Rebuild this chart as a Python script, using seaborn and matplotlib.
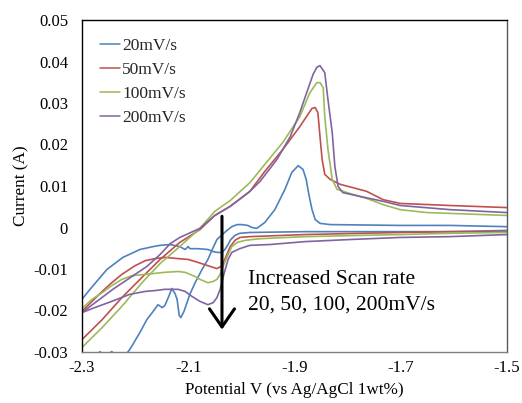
import numpy as np
import pandas as pd
import matplotlib
matplotlib.use("Agg")
import matplotlib.pyplot as plt
import seaborn as sns

# ---------------- data ----------------
rates = ["20mV/s", "50mV/s", "100mV/s", "200mV/s"]
colors = ["#4F81BD", "#C0504D", "#9BBB59", "#8064A2"]

# 20 mV/s
b_cat_V = [-1.500, -1.607, -1.701, -1.880, -1.984, -2.003, -2.012, -2.020, -2.025, -2.031,
           -2.036, -2.046, -2.053, -2.063, -2.082, -2.097, -2.100, -2.106, -2.116, -2.134,
           -2.153, -2.166, -2.191, -2.223, -2.253, -2.285, -2.300]
b_cat_I = [-0.0007, -0.0010, -0.0010, -0.0010, -0.0012, -0.0014, -0.0019, -0.0029, -0.0041, -0.0053,
           -0.0060, -0.0060, -0.0058, -0.0053, -0.0051, -0.0051, -0.0046, -0.0053, -0.0046, -0.0041,
           -0.0043, -0.0046, -0.0053, -0.0072, -0.0101, -0.0149, -0.0173]
b_an_V = [-2.300, -2.276, -2.266, -2.259, -2.244, -2.232, -2.219, -2.210, -2.191, -2.178,
          -2.166, -2.157, -2.149, -2.144, -2.136, -2.131, -2.125, -2.121, -2.117, -2.114,
          -2.108, -2.097, -2.087, -2.074, -2.063, -2.053, -2.046, -2.036, -2.027, -2.018,
          -2.008, -1.999, -1.988, -1.980, -1.971, -1.956, -1.937, -1.918, -1.905, -1.893,
          -1.884, -1.878, -1.873, -1.867, -1.861, -1.852, -1.833, -1.701, -1.607, -1.500]
b_an_I = [-0.0330, -0.0313, -0.0299, -0.0313, -0.0299, -0.0313, -0.0308, -0.0294, -0.0253, -0.0222,
          -0.0202, -0.0186, -0.0193, -0.0188, -0.0164, -0.0147, -0.0159, -0.0173, -0.0212, -0.0217,
          -0.0202, -0.0161, -0.0133, -0.0101, -0.0077, -0.0048, -0.0029, -0.0017, -0.0007, 0.0002,
          0.0007, 0.0007, 0.0005, 0.0000, -0.0002, 0.0012, 0.0043, 0.0092, 0.0133, 0.0149,
          0.0140, 0.0116, 0.0080, 0.0043, 0.0019, 0.0010, 0.0007, 0.0005, 0.0005, 0.0002]

# 50 mV/s
r_cat_V = [-1.500, -1.607, -1.701, -1.880, -1.984, -2.003, -2.012, -2.021, -2.029, -2.036,
           -2.046, -2.063, -2.082, -2.100, -2.119, -2.144, -2.163, -2.181, -2.200, -2.225,
           -2.244, -2.262, -2.281, -2.300]
r_cat_I = [-0.0010, -0.0010, -0.0012, -0.0017, -0.0022, -0.0024, -0.0031, -0.0046, -0.0070, -0.0092,
           -0.0099, -0.0092, -0.0084, -0.0077, -0.0075, -0.0072, -0.0075, -0.0080, -0.0092, -0.0113,
           -0.0133, -0.0154, -0.0178, -0.0202]
r_an_V = [-2.300, -2.262, -2.225, -2.187, -2.153, -2.116, -2.078, -2.050, -2.021, -1.984,
          -1.956, -1.922, -1.890, -1.875, -1.867, -1.861, -1.856, -1.852, -1.848, -1.843,
          -1.833, -1.814, -1.790, -1.764, -1.733, -1.701, -1.607, -1.500]
r_an_I = [-0.0270, -0.0222, -0.0169, -0.0120, -0.0077, -0.0036, -0.0005, 0.0029, 0.0051, 0.0087,
          0.0135, 0.0188, 0.0243, 0.0272, 0.0287, 0.0289, 0.0277, 0.0219, 0.0164, 0.0128,
          0.0116, 0.0104, 0.0096, 0.0087, 0.0067, 0.0058, 0.0053, 0.0048]

# 100 mV/s
g_cat_V = [-1.500, -1.607, -1.701, -1.880, -1.965, -1.993, -2.008, -2.018, -2.025, -2.033,
           -2.040, -2.046, -2.053, -2.063, -2.078, -2.087, -2.106, -2.119, -2.144, -2.181,
           -2.206, -2.225, -2.244, -2.262, -2.281, -2.300]
g_cat_I = [-0.0012, -0.0014, -0.0017, -0.0022, -0.0027, -0.0031, -0.0036, -0.0046, -0.0065, -0.0089,
           -0.0113, -0.0125, -0.0130, -0.0133, -0.0125, -0.0118, -0.0108, -0.0106, -0.0108, -0.0113,
           -0.0116, -0.0125, -0.0140, -0.0157, -0.0173, -0.0195]
g_an_V = [-2.300, -2.262, -2.225, -2.187, -2.153, -2.116, -2.078, -2.050, -2.021, -1.984,
          -1.922, -1.890, -1.871, -1.858, -1.852, -1.846, -1.843, -1.837, -1.829, -1.820,
          -1.796, -1.764, -1.733, -1.701, -1.651, -1.607, -1.500]
g_an_I = [-0.0289, -0.0241, -0.0190, -0.0133, -0.0087, -0.0046, -0.0002, 0.0039, 0.0065, 0.0108,
          0.0205, 0.0267, 0.0325, 0.0349, 0.0349, 0.0337, 0.0267, 0.0188, 0.0116, 0.0092,
          0.0082, 0.0070, 0.0055, 0.0043, 0.0036, 0.0034, 0.0029]

# 200 mV/s
p_cat_V = [-1.500, -1.607, -1.701, -1.796, -1.880, -1.946, -1.984, -2.003, -2.018, -2.025,
           -2.033, -2.040, -2.046, -2.053, -2.063, -2.078, -2.093, -2.106, -2.119, -2.144,
           -2.163, -2.181, -2.210, -2.244, -2.276, -2.300]
p_cat_I = [-0.0017, -0.0022, -0.0024, -0.0029, -0.0034, -0.0041, -0.0043, -0.0051, -0.0060, -0.0077,
           -0.0113, -0.0149, -0.0169, -0.0181, -0.0186, -0.0178, -0.0166, -0.0154, -0.0149, -0.0149,
           -0.0152, -0.0154, -0.0161, -0.0178, -0.0193, -0.0205]
p_an_V = [-2.300, -2.242, -2.178, -2.153, -2.134, -2.116, -2.078, -2.050, -2.021, -1.984,
          -1.965, -1.933, -1.908, -1.890, -1.877, -1.865, -1.858, -1.852, -1.843, -1.837,
          -1.829, -1.824, -1.818, -1.809, -1.777, -1.733, -1.701, -1.607, -1.500]
p_an_I = [-0.0205, -0.0149, -0.0094, -0.0065, -0.0039, -0.0024, -0.0002, 0.0029, 0.0051, 0.0087,
          0.0111, 0.0164, 0.0219, 0.0277, 0.0325, 0.0369, 0.0386, 0.0390, 0.0373, 0.0308,
          0.0229, 0.0147, 0.0099, 0.0084, 0.0075, 0.0063, 0.0053, 0.0043, 0.0036]

x_ticks = [-2.3, -2.1, -1.9, -1.7, -1.5]
x_tick_labels = ["-2.3", "-2.1", "-1.9", "-1.7", "-1.5"]
y_ticks = [0.05, 0.04, 0.03, 0.02, 0.01, 0.0, -0.01, -0.02, -0.03]
y_tick_labels = ["0.05", "0.04", "0.03", "0.02", "0.01", "0", "-0.01", "-0.02", "-0.03"]

# ---------------- build long table ----------------
branches = [
    (rates[0], "cat", b_cat_V, b_cat_I), (rates[0], "an", b_an_V, b_an_I),
    (rates[1], "cat", r_cat_V, r_cat_I), (rates[1], "an", r_an_V, r_an_I),
    (rates[2], "cat", g_cat_V, g_cat_I), (rates[2], "an", g_an_V, g_an_I),
    (rates[3], "cat", p_cat_V, p_cat_I), (rates[3], "an", p_an_V, p_an_I),
]
frames = []
for rate, br, V, I in branches:
    frames.append(pd.DataFrame({"V": V, "I": I, "rate": rate, "branch": rate + "_" + br}))
df = pd.concat(frames, ignore_index=True)

# ---------------- style ----------------
sns.set_theme(style="white")
plt.rcParams["font.family"] = ["Liberation Serif", "DejaVu Serif"]
plt.rcParams["axes.unicode_minus"] = False

fig = plt.figure(figsize=(5.22, 4.03), dpi=100)
ax = fig.add_axes([82 / 522, 1 - 352 / 403, 425 / 522, 332 / 403])

sns.lineplot(data=df, x="V", y="I", hue="rate", hue_order=rates, palette=colors,
             units="branch", estimator=None, sort=False, linewidth=1.2, ax=ax)

ax.set_xlim(-2.3, -1.5)
ax.set_ylim(-0.03, 0.05)
ax.set_xticks(x_ticks)
ax.set_xticklabels(x_tick_labels)
ax.set_yticks(y_ticks)
ax.set_yticklabels(y_tick_labels)
ax.tick_params(axis="both", direction="in", length=4, width=0.8, colors="black",
               labelsize=12, labelcolor="black")
ax.tick_params(axis="y", pad=10)
ax.tick_params(axis="x", pad=6)

for side in ["left", "top"]:
    ax.spines[side].set_color("black")
    ax.spines[side].set_linewidth(1.0)
ax.spines["bottom"].set_color("#7f7f7f")
ax.spines["bottom"].set_linewidth(1.0)
ax.spines["right"].set_color("#595959")
ax.spines["right"].set_linewidth(1.0)

ax.set_xlabel("Potential V (vs Ag/AgCl 1wt%)", fontsize=12.3, color="black", labelpad=4)
ax.set_ylabel("Current (A)", fontsize=12.3, color="black", labelpad=3)

leg = ax.legend(loc="upper left", bbox_to_anchor=(0.043, 0.946), frameon=False,
                fontsize=12.5, handlelength=1.15, handletextpad=0.1, labelspacing=0.45,
                borderaxespad=0, borderpad=0)
for line in leg.get_lines():
    line.set_linewidth(1.1)

# arrow and annotation
ax.annotate("", xy=(-2.0365, -0.0246), xytext=(-2.0365, 0.0027),
            arrowprops=dict(arrowstyle="->,head_length=0.65,head_width=0.45", lw=2.2,
                            color="black", mutation_scale=20, shrinkA=0, shrinkB=0))
ax.text(-1.9875, -0.0125, "Increased Scan rate", fontsize=15.5, va="center", ha="left",
        color="black")
ax.text(-1.9875, -0.0188, "20, 50, 100, 200mV/s", fontsize=15.5, va="center", ha="left",
        color="black")

fig.savefig("out.png", dpi=100)
